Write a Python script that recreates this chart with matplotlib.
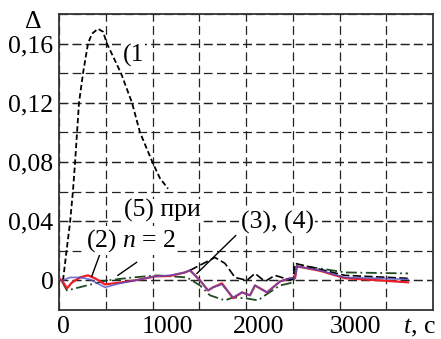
import numpy as np
import matplotlib
matplotlib.use('Agg')
import matplotlib.pyplot as plt
import matplotlib.transforms as mtransforms

plt.rcParams['font.family'] = ['Liberation Serif', 'DejaVu Serif']
plt.rcParams['mathtext.fontset'] = 'custom'
plt.rcParams['mathtext.it'] = 'Liberation Serif:italic'
plt.rcParams['mathtext.rm'] = 'Liberation Serif'

# curve (1)
t1 = [43, 75, 118, 150, 171, 214, 257, 310, 353, 417, 471, 513, 663, 781, 866, 1005, 1080, 1166]
d1 = [0.000, 0.017, 0.039, 0.061, 0.079, 0.120, 0.140, 0.160, 0.1667, 0.170, 0.168,
      0.160, 0.140, 0.120, 0.100, 0.079, 0.069, 0.062]

# curve (2), red
t_red = [10, 32, 85, 139, 225, 310, 385, 492, 652, 813, 1027, 1187, 1348, 1401, 1508, 1594,
         1647, 1743, 1861, 1957, 2043, 2096, 2225, 2364, 2470, 2524, 2545, 2791, 3059, 3433, 3733]
d_red = [0.001, 0.0, -0.0054, -0.0014, 0.002, 0.0034, 0.0014, -0.0027, -0.0015, 0.0, 0.0027,
         0.0030, 0.0054, 0.0068, 0.0, -0.0068, -0.0047, -0.0020, -0.0120, -0.0081, -0.0101,
         -0.0034, -0.0081, -0.0007, 0.0014, 0.0014, 0.0095, 0.0065, 0.0015, 0.0, -0.0013]

# blue
t_blue = [32, 118, 225, 332, 492, 652, 813, 1027, 1187, 1348, 1401, 1508, 1594, 1647, 1743,
          1861, 1957, 2043, 2096, 2225, 2364, 2470, 2524, 2545, 2791, 3059, 3433, 3733]
d_blue = [0.0, 0.002, 0.002, 0.0007, -0.0047, -0.002, 0.0, 0.0027, 0.0034, 0.0054, 0.0068,
          0.0, -0.0068, -0.0047, -0.0027, -0.0115, -0.0081, -0.0101, -0.0034, -0.0081,
          -0.0007, 0.0014, 0.0014, 0.0095, 0.0068, 0.002, 0.0014, 0.0007]

# (5), dark green dash-dot
t_grn = [32, 85, 299, 513, 791, 1048, 1369, 1508, 1615, 1775, 1861, 2010, 2128, 2203, 2364,
         2503, 2545, 2791, 3059, 3733]
d_grn = [-0.0007, -0.0068, -0.0034, 0.0, 0.002, 0.0034, 0.002, -0.0034, -0.0101, -0.0135,
         -0.0115, -0.0122, -0.0135, -0.0101, -0.0034, -0.0014, 0.0101, 0.0081, 0.0054, 0.0047]

# (3), (4) black dashed
t_34 = [1401, 1561, 1668, 1775, 1882, 2010, 2096, 2203, 2310, 2449, 2503, 2524, 2706, 3059, 3733]
d_34 = [0.0068, 0.012, 0.0155, 0.0115, 0.002, 0.0, 0.0047, -0.0007, 0.0034, 0.0007, 0.0007,
        0.0115, 0.0088, 0.0034, 0.0014]

fs = 18.5

fig = plt.figure(figsize=(4.41, 3.39), dpi=100)
ax = fig.add_axes([59 / 441, 29 / 339, 374 / 441, 296 / 339])

ax.set_xlim(0, 4000)
ax.set_ylim(-0.02, 0.18)
ax.set_xticks([0, 1000, 2000, 3000])
ax.set_xticklabels(['0', '1000', '2000', '3000'])
ax.set_xticks(np.arange(500, 4000, 1000), minor=True)
ax.set_yticks([0, 0.04, 0.08, 0.12, 0.16])
ax.set_yticklabels(['0', '0,04', '0,08', '0,12', '0,16'])
ax.set_yticks(np.arange(-0.02, 0.181, 0.02), minor=True)
ax.yaxis.remove_overlapping_locs = False
ax.grid(which='both', color='#222222', linestyle=(0, (7, 3.5)), linewidth=0.9)
ax.tick_params(which='both', length=0, labelsize=fs, pad=4)

# shift x labels right as in the original layout
shifts = [4, 15, 13, 16]
for lab, dx in zip(ax.get_xticklabels(), shifts):
    lab.set_transform(lab.get_transform() + mtransforms.ScaledTranslation(dx / 100, 0, fig.dpi_scale_trans))

for s in ax.spines.values():
    s.set_linewidth(1.3)
    s.set_color('#333333')

ax.plot(t_grn, d_grn, color='#1f4a22', linestyle=(0, (6, 2, 1, 2)), linewidth=1.3, zorder=3)
ax.plot(t_red, d_red, color='#ee1c25', linewidth=1.6, zorder=4)
ax.plot(t_blue, d_blue, color='#5050c8', linewidth=1.2, alpha=0.8, zorder=5)
ax.plot(t_34, d_34, color='black', linestyle=(0, (5, 2)), linewidth=1.2, zorder=4)
ax.plot(t1, d1, color='black', linestyle=(0, (3, 1.6)), linewidth=1.3, zorder=4)

# leader lines
ax.plot([440, 350], [0.0182, 0.0027], color='black', linewidth=1.0, zorder=6)
ax.plot([630, 830], [0.0034, 0.0122], color='black', linewidth=1.0, zorder=6)
ax.plot([1475, 1890], [0.0047, 0.0303], color='black', linewidth=1.0, zorder=6)

box = dict(facecolor='white', edgecolor='none', pad=0.5)
ax.text(800, 0.152, '(1', fontsize=fs, ha='center', va='center', bbox=box, zorder=7)
ax.text(1110, 0.047, '(5) при', fontsize=fs, ha='center', va='center', bbox=box, zorder=7)
ax.text(770, 0.027, '(2) $n$ = 2', fontsize=fs, ha='center', va='center', bbox=box, zorder=7)
ax.text(2340, 0.0392, '(3), (4)', fontsize=fs, ha='center', va='center', bbox=box, zorder=7)

fig.text(33 / 441, 1 - 22 / 339, 'Δ', fontsize=fs, ha='center', va='center')
fig.text(436 / 441, 1 - 328 / 339, '$t$, с', fontsize=fs, ha='right', va='center')

fig.savefig('out.png', dpi=100)
